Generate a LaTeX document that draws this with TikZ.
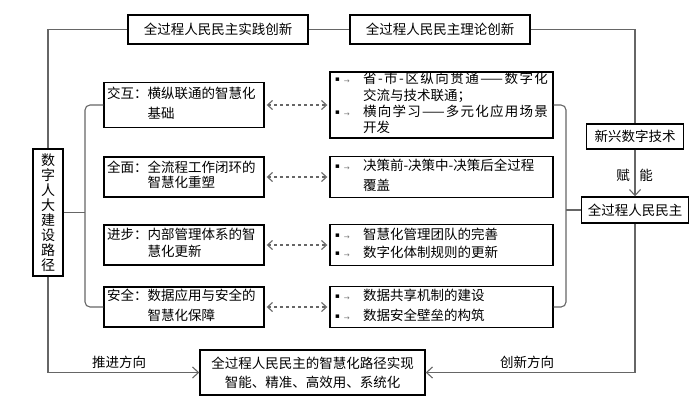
\documentclass[tikz,border=0pt]{standalone}
\usepackage{fontspec}
\setmainfont{Noto Sans CJK SC}
\newfontfamily\symfont{DejaVu Sans}
\usetikzlibrary{arrows.meta}
\newcommand{\mk}{\makebox[31pt][l]{\hspace{3pt}\raisebox{2pt}{\symfont\fontsize{7}{7}\selectfont ▪}\hspace{4pt}{\color{black!55}\symfont\fontsize{7}{7}\selectfont →}}}

\begin{document}
\begin{tikzpicture}[x=1pt,y=-1pt,
  every node/.style={font=\fontsize{13.5}{16}\selectfont},
  box/.style={draw, line width=1.4pt, inner sep=0pt, align=center},
  lbox/.style={box, minimum width=160pt, minimum height=40pt, text width=154pt, align=left},
  rbox/.style={box, minimum width=223pt, minimum height=41pt, text width=219pt, align=left},
  link/.style={draw=black!60, line width=1.1pt},
  dlink/.style={link, dashed, shorten <=2pt, shorten >=2pt, {Straight Barb[length=5pt,width=9pt]}-{Straight Barb[length=5pt,width=9pt]}},
  arr/.style={link, -{Straight Barb[length=6pt,width=11pt]}}]

\useasboundingbox (0,0) rectangle (700,412);

\node [box, minimum width=180pt, minimum height=29pt] (top1) at (218,29.5) {全过程人民民主实践创新};
\node [box, minimum width=180pt, minimum height=29pt] (top2) at (440,29.5) {全过程人民民主理论创新};

\node [box, minimum width=30pt, minimum height=127pt, text width=16pt, font=\fontsize{14}{15}\selectfont] (path) at (48,212.5) {数\\字\\人\\大\\建\\设\\路\\径};

\node [lbox, minimum height=45pt] (l1) at (184,105) {\begin{tabular}{@{}l@{}l@{}}交互：&横纵联通的智慧化\\[4pt]&基础\end{tabular}};
\node [lbox] (l2) at (184,177) {\begin{tabular}{@{}l@{}l@{}}全面：&全流程工作闭环的\\[-1pt]&智慧化重塑\end{tabular}};
\node [lbox] (l3) at (184,245) {\begin{tabular}{@{}l@{}l@{}}进步：&内部管理体系的智\\[1pt]&慧化更新\end{tabular}};
\node [lbox] (l4) at (184,307) {\begin{tabular}{@{}l@{}l@{}}安全：&数据应用与安全的\\[4pt]&智慧化保障\end{tabular}};

\node [rbox, minimum height=66pt] (r1) at (441.5,105) {\begin{tabular}{@{}l@{}l@{}}\mk&\makebox[185pt][s]{省\hfil -\hfil 市\hfil -\hfil 区\hfil 纵\hfil 向\hfil 贯\hfil 通\hfil ——\hfil 数\hfil 字\hfil 化}\\&交流与技术联通；\\\mk&\makebox[185pt][s]{横\hfil 向\hfil 学\hfil 习\hfil ——\hfil 多\hfil 元\hfil 化\hfil 应\hfil 用\hfil 场\hfil 景}\\&开发\end{tabular}};
\node [rbox] (r2) at (441.5,177) {\begin{tabular}{@{}l@{}l@{}}\mk&决策前-决策中-决策后全过程\\[4pt]&覆盖\end{tabular}};
\node [rbox] (r3) at (441.5,245) {\begin{tabular}{@{}l@{}l@{}}\mk&智慧化管理团队的完善\\[2pt]\mk&数字化体制规则的更新\end{tabular}};
\node [rbox] (r4) at (441.5,307) {\begin{tabular}{@{}l@{}l@{}}\mk&数据共享机制的建设\\[4pt]\mk&数据安全壁垒的构筑\end{tabular}};

\node [box, minimum width=97pt, minimum height=25pt] (tech) at (635,136.5) {新兴数字技术};
\node [box, minimum width=107pt, minimum height=26pt] (wpd) at (635,210) {全过程人民民主};
\node [box, minimum width=225pt, minimum height=45pt] (goal) at (312.5,372.5) {全过程人民民主的智慧化路径实现\\[3pt]智能、精准、高效用、系统化};

\node (push) at (119,362) {推进方向};
\node (inno) at (527,362) {创新方向};
\node (fu) at (623,175) {赋};
\node (neng) at (646,175) {能};

\draw [link] (path.north) |- (top1.west);
\draw [link] (top1.east) -- (top2.west);
\draw [link] (top2.east) -| (tech.north);
\draw [arr] (tech.south) -- (wpd.north);
\draw [arr] (path.south) |- (goal.west);
\draw [arr] (wpd.south) |- (goal.east);

\coordinate (lb) at (85,212.5);
\draw [link, rounded corners=5pt] (l1.west) -| (lb) |- (l4.west);
\draw [link] (path.east) -- (lb);
\coordinate (rb) at (566,210);
\draw [link, rounded corners=5pt] (r1.east) -| (rb) |- (r4.east);
\draw [link] (rb) -- (wpd.west);

\draw [dlink] (l1.east) -- (r1.west);
\draw [dlink] (l2.east) -- (r2.west);
\draw [dlink] (l3.east) -- (r3.west);
\draw [dlink] (l4.east) -- (r4.west);

\end{tikzpicture}
\end{document}
